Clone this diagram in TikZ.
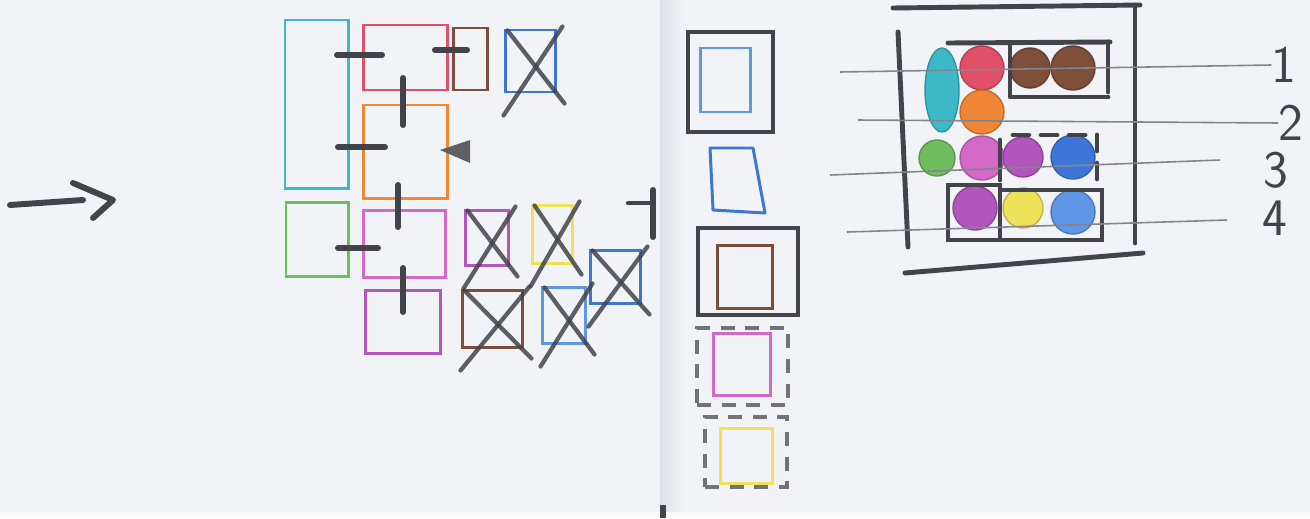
\documentclass[tikz,border=0pt]{standalone}
\usetikzlibrary{shapes.geometric}
\definecolor{paper}{RGB}{242,243,246}
\definecolor{fold}{RGB}{220,224,232}
\definecolor{pencil}{RGB}{66,68,74}
\definecolor{skCyan}{RGB}{60,185,200}
\definecolor{skRed}{RGB}{225,80,105}
\definecolor{skBrown}{RGB}{125,78,58}
\definecolor{skBlue}{RGB}{62,118,215}
\definecolor{skLblue}{RGB}{95,150,230}
\definecolor{skOrange}{RGB}{240,135,55}
\definecolor{skGreen}{RGB}{110,190,95}
\definecolor{skPink}{RGB}{212,105,200}
\definecolor{skPurple}{RGB}{178,85,188}
\definecolor{skYellow}{RGB}{238,226,90}

\begin{document}
\begin{tikzpicture}[
    x=0.02cm, y=-0.02cm,
    box/.style={rectangle, draw=#1, line width=1.7pt, inner sep=0pt},
    frame/.style={rectangle, draw=pencil, line width=2.6pt, inner sep=0pt},
    dframe/.style={frame, draw=pencil!75, line width=2pt, dash pattern=on 8pt off 6pt},
    pen/.style={draw=pencil, line width=2.8pt, line cap=round},
    tick/.style={draw=pencil, line width=3.4pt, line cap=round},
    cross/.style={draw=pencil, line width=2.4pt, line cap=round, opacity=0.85},
    blob/.style={circle, fill=#1, draw=#1!80!black, line width=0.8pt, inner sep=0pt},
    guide/.style={draw=pencil!65, line width=0.9pt},
    num/.style={font=\sffamily\fontsize{30}{30}\selectfont, text=pencil, inner sep=0pt},
  ]

  %% ---------------- paper ----------------
  \fill[paper] (0,0) rectangle (1310,518);
  \shade[left color=fold, right color=paper] (660,0) rectangle (684,512);
  \fill[white!60!paper] (0,512) rectangle (1310,518);
  \fill[pencil] (660,505) rectangle (666,518);
  \useasboundingbox (0,0) rectangle (1310,518);

  %% ---------------- left: arrow ----------------
  \draw[pen, line width=3.4pt] (10,205) -- (83,200);
  \draw[pen, line width=3.4pt, line join=round] (73,183) -- (113,200) -- (93,218);

  %% ---------------- left: layout boxes ----------------
  \foreach \nm/\col/\xa/\ya/\xb/\yb in {
      bCyan/skCyan/285/20/348/188, bRed/skRed/363/25/447/90,
      bBrown/skBrown/453/28/487/90, bOrange/skOrange/363/105/447/198,
      bGreen/skGreen/286/202/348/276, bPink/skPink/363/210/445/277,
      bPurple/skPurple/365/290/440/353,
      xBlue/skBlue/505/30/555/92, xPurple/skPurple/465/210/508/265,
      xYellow/skYellow/532/205/572/263, xBlueB/skBlue/590/250/640/303,
      xBrown/skBrown/462/290/522/347, xLblue/skLblue/542/287/585/343} {
    \node[box=\col, minimum width={(\xb-\xa)*0.02cm}, minimum height={(\yb-\ya)*0.02cm}]
      (\nm) at ({(\xa+\xb)/2},{(\ya+\yb)/2}) {};
  }
  \foreach \nm in {xBlue,xPurple,xYellow,xBlueB,xBrown,xLblue} {
    \draw[cross] ([shift={(4,2)}]\nm.north west) -- ([shift={(8,10)}]\nm.south east);
    \draw[cross] ([shift={(6,-2)}]\nm.north east) -- ([shift={(0,22)}]\nm.south west);
  }

  % joints between the boxes
  \draw[tick] (337,55) -- (382,55);
  \draw[tick] (435,50) -- (467,50);
  \draw[tick] (338,147) -- (385,147);
  \draw[tick] (338,248) -- (378,248);
  \draw[tick] (403,78) -- (403,125);
  \draw[tick] (398,185) -- (398,227);
  \draw[tick] (403,268) -- (403,312);
  \fill[pencil!85] (440,150) -- (470,140) -- (470,163) -- cycle;
  \draw[tick, line width=2.4pt] (628,203) -- (653,203);
  \draw[tick] (653,190) -- (653,237);

  %% ---------------- right: stacked frames ----------------
  \foreach \nm/\st/\xa/\ya/\xb/\yb in {
      fA/frame/688/32/773/132, fB/frame/698/228/798/315,
      fC/dframe/697/328/788/405, fD/dframe/705/417/787/487} {
    \node[\st, minimum width={(\xb-\xa)*0.02cm}, minimum height={(\yb-\ya)*0.02cm}]
      (\nm) at ({(\xa+\xb)/2},{(\ya+\yb)/2}) {};
  }
  \foreach \nm/\col/\xa/\ya/\xb/\yb in {
      iA/skLblue/700/48/750/112, iB/skBrown/717/245/772/308,
      iC/skPink/713/333/770/395, iD/skYellow/720/428/772/483} {
    \node[box=\col, minimum width={(\xb-\xa)*0.02cm}, minimum height={(\yb-\ya)*0.02cm}]
      (\nm) at ({(\xa+\xb)/2},{(\ya+\yb)/2}) {};
  }
  \draw[skBlue, line width=1.7pt, line join=round] (710,148) -- (753,148) -- (765,213) -- (713,210) -- cycle;

  %% ---------------- right: grid of blobs ----------------
  \draw[pen] (893,8) -- (1140,5);
  \draw[pen] (1135,5) -- (1135,243);
  \draw[pen] (898,32) -- (908,247);
  \draw[pen] (905,273) -- (1143,253);

  \node[ellipse, fill=skCyan, draw=skCyan!80!black, line width=0.8pt, inner sep=0pt,
    minimum width=34*0.02cm, minimum height=84*0.02cm] (eCyan) at (942,90) {};
  \foreach \nm/\col/\cx/\cy/\r in {
      cRed/skRed/982/68/22, cOrange/skOrange/982/112/22,
      cBrownA/skBrown/1030/68/20, cBrownB/skBrown/1073/68/22,
      cGreen/skGreen/937/158/18, cPink/skPink/982/158/22,
      cPurple/skPurple/1023/157/20, cBlue/skBlue/1073/157/22,
      cPurpleB/skPurple/975/208/22, cYellow/skYellow/1023/208/20,
      cLblue/skLblue/1073/212/22} {
    \node[blob=\col, minimum size={2*\r*0.02cm}] (\nm) at (\cx,\cy) {};
  }

  \draw[pen] (948,43) -- (1110,42);
  \draw[pen, line join=round] (1010,45) -- (1010,97) -- (1108,97);
  \draw[pen] (1108,42) -- (1108,92);
  \draw[pen, dash pattern=on 9pt off 7pt] (1013,135) -- (1093,135);
  \draw[pen] (1000,140) -- (1000,180);
  \draw[pen, dash pattern=on 9pt off 7pt] (1097,135) -- (1097,180);
  \draw[pen] (948,185) rectangle (1000,240);
  \draw[pen] (1000,190) rectangle (1102,240);

  % rows
  \node[num] (n1) at (1284,65) {1};
  \node[num] (n2) at (1291,123) {2};
  \node[num] (n3) at (1276,170) {3};
  \node[num] (n4) at (1275,218) {4};
  \coordinate (g1) at (840,72);
  \coordinate (g2) at (858,120);
  \coordinate (g3) at (830,175);
  \coordinate (g3e) at (1220,160);
  \coordinate (g4) at (847,232);
  \coordinate (g4e) at (1227,220);
  \draw[guide] (g1) -- (n1.west);
  \draw[guide] (g2) -- (n2.west);
  \draw[guide] (g3) -- (g3e);
  \draw[guide] (g4) -- (g4e);

\end{tikzpicture}
\end{document}
